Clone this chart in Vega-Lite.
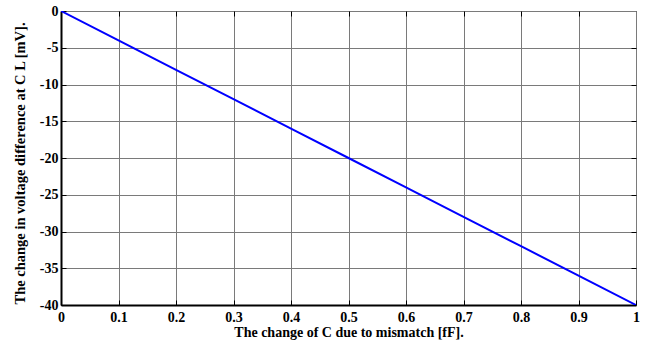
{
  "$schema": "https://vega.github.io/schema/vega-lite/v6.json",
  "width": 575,
  "height": 294,
  "autosize": {"type": "none"},
  "padding": {"left": 61, "top": 11, "right": 21, "bottom": 44},
  "background": "white",
  "config": {
    "view": {"stroke": "black", "strokeWidth": 1},
    "font": "Liberation Serif",
    "axis": {
      "labelFont": "Liberation Serif",
      "labelFontWeight": "bold",
      "labelFontSize": 14,
      "labelColor": "black",
      "titleFont": "Liberation Serif",
      "titleFontWeight": "bold",
      "titleFontSize": 14,
      "titleColor": "black",
      "domainColor": "black",
      "domainWidth": 2,
      "tickColor": "black",
      "tickSize": -5,
      "tickWidth": 1,
      "gridColor": "#7a7a7a",
      "gridWidth": 1,
      "gridOpacity": 1
    }
  },
  "data": {
    "values": [
      {"dc": 0.0, "dv": 0},
      {"dc": 0.1, "dv": -4},
      {"dc": 0.2, "dv": -8},
      {"dc": 0.3, "dv": -12},
      {"dc": 0.4, "dv": -16},
      {"dc": 0.5, "dv": -20},
      {"dc": 0.6, "dv": -24},
      {"dc": 0.7, "dv": -28},
      {"dc": 0.8, "dv": -32},
      {"dc": 0.9, "dv": -36},
      {"dc": 1.0, "dv": -40}
    ]
  },
  "layer": [
    {
      "mark": {"type": "point", "opacity": 0},
      "encoding": {
        "x": {
          "field": "dc", "type": "quantitative",
          "scale": {"domain": [0, 1], "nice": false, "zero": false},
          "axis": {"orient": "top", "labels": false, "title": null, "grid": false, "domain": false, "values": [0.1,0.2,0.3,0.4,0.5,0.6,0.7,0.8,0.9]}
        },
        "y": {
          "field": "dv", "type": "quantitative",
          "scale": {"domain": [-40, 0], "nice": false, "zero": false},
          "axis": {"orient": "right", "labels": false, "title": null, "grid": false, "domain": false, "values": [-35,-30,-25,-20,-15,-10,-5]}
        }
      }
    },
    {
      "mark": {"type": "line", "color": "#0000ff", "strokeWidth": 2, "clip": true},
      "encoding": {
        "x": {
          "field": "dc", "type": "quantitative",
          "scale": {"domain": [0, 1], "nice": false, "zero": false},
          "axis": {
            "orient": "bottom",
            "grid": true,
            "values": [0,0.1,0.2,0.3,0.4,0.5,0.6,0.7,0.8,0.9,1],
            "format": "~g",
            "labelPadding": 10,
            "title": "The change of C due to mismatch [fF].",
            "titlePadding": 1,
            "labelFlush": false
          }
        },
        "y": {
          "field": "dv", "type": "quantitative",
          "scale": {"domain": [-40, 0], "nice": false, "zero": false},
          "axis": {
            "orient": "left",
            "grid": true,
            "values": [-40,-35,-30,-25,-20,-15,-10,-5,0],
            "labelExpr": "replace(datum.label, '\u2212', '-')",
            "labelPadding": 8,
            "title": "The change in voltage difference at  C L  [mV].",
            "titleFontSize": 14.5,
            "titleX": -41,
            "titleY": 152,
            "titleBaseline": "middle",
            "labelFlush": false
          }
        }
      }
    }
  ],
  "resolve": {"axis": {"x": "independent", "y": "independent"}}
}
